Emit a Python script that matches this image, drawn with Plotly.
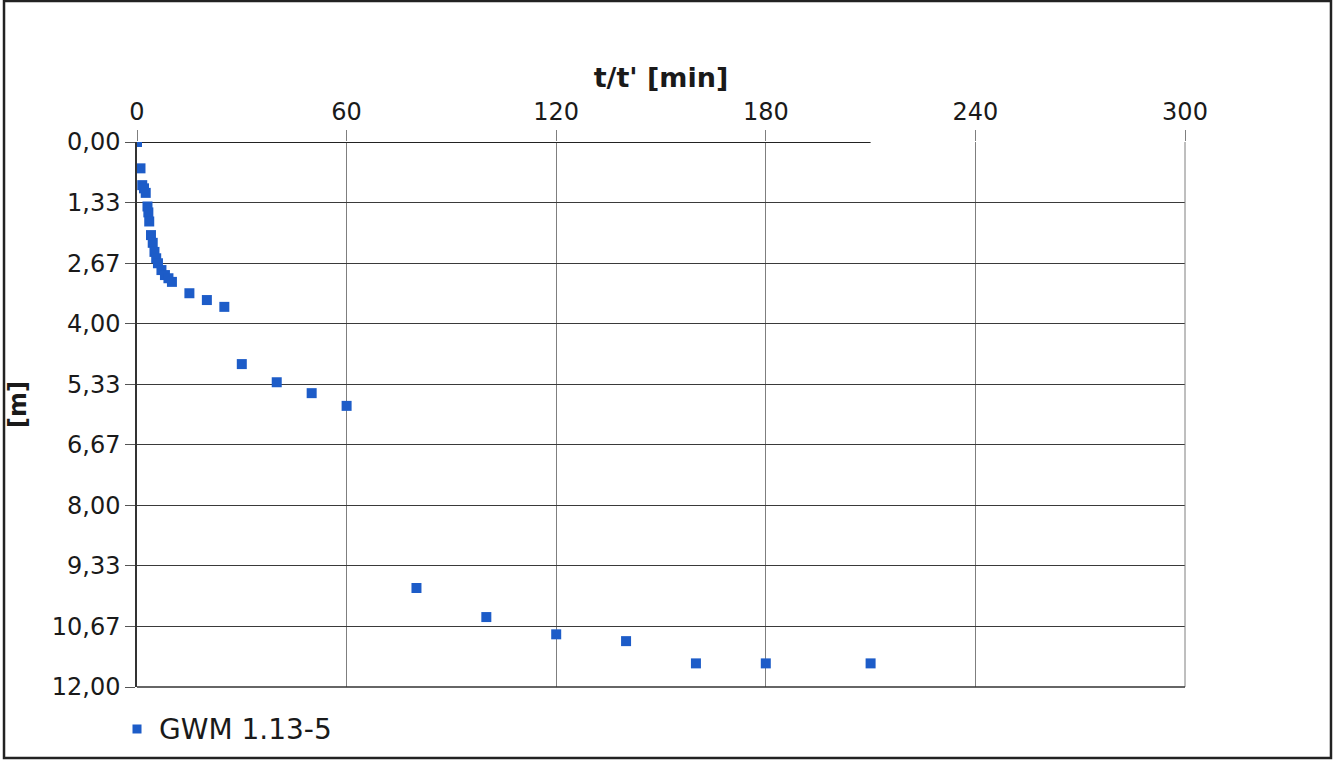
import plotly.graph_objects as go

# Drawdown measurements for well GWM 1.13-5
series_name = "GWM 1.13-5"
t_min = [0, 1, 1.5, 2, 2.5, 3, 3.25, 3.5, 4, 4.5, 5, 5.5, 6, 7, 8, 9, 10,
         15, 20, 25, 30, 40, 50, 60, 80, 100, 120, 140, 160, 180, 210]
depth_m = [0.00, 0.58, 0.95, 1.02, 1.12, 1.42, 1.55, 1.75, 2.05, 2.22, 2.42, 2.56, 2.67, 2.82, 2.93, 3.00, 3.08,
           3.33, 3.48, 3.63, 4.89, 5.29, 5.53, 5.81, 9.82, 10.46, 10.84, 10.99, 11.48, 11.48, 11.48]

# Reference (static) level line
ref_t = [0, 210]
ref_level = [0, 0]

x_ticks = [0, 60, 120, 180, 240, 300]
y_ticks = [0, 4 / 3, 8 / 3, 4, 16 / 3, 20 / 3, 8, 28 / 3, 32 / 3, 12]
y_labels = ["0,00", "1,33", "2,67", "4,00", "5,33", "6,67", "8,00", "9,33", "10,67", "12,00"]

FONT = "DejaVu Sans"
MARKER_COLOR = "#1d5cc8"

fig = go.Figure()
fig.add_trace(go.Scatter(
    x=ref_t, y=ref_level, mode="lines",
    line=dict(color="#222222", width=2), showlegend=False, hoverinfo="skip",
))
fig.add_trace(go.Scatter(
    x=t_min, y=depth_m, mode="markers", name=series_name,
    marker=dict(symbol="square", size=10, color=MARKER_COLOR, line=dict(width=0)),
    cliponaxis=True, showlegend=False,
))

fig.update_layout(
    width=1341, height=761,
    margin=dict(l=137, r=156, t=142, b=74),
    paper_bgcolor="white", plot_bgcolor="white",
    font=dict(family=FONT, size=24, color="#1a1a1a"),
    xaxis=dict(
        side="top", range=[0, 300], tickvals=x_ticks, ticktext=[str(v) for v in x_ticks],
        showgrid=True, gridcolor="#7f7f7f", gridwidth=1,
        ticks="outside", ticklen=11, tickcolor="#7f7f7f",
        zeroline=False, showline=False, automargin=False,
        title=dict(text="<b>t/t' [min]</b>", font=dict(family=FONT, size=27), standoff=2),
    ),
    yaxis=dict(
        range=[12, 0], tickvals=y_ticks, ticktext=y_labels,
        showgrid=True, gridcolor="#3a3a3a", gridwidth=1,
        ticks="outside", ticklen=10, tickcolor="#555555",
        zeroline=False, showline=True, linecolor="#333333", linewidth=1.5,
        automargin=False,
    ),
    showlegend=False,
)

# Vertical axis title
fig.add_annotation(
    text="<b>[m]</b>", xref="paper", yref="paper", x=-0.1135, y=0.5174,
    xanchor="center", yanchor="middle",
    textangle=-90, showarrow=False, font=dict(family=FONT, size=24),
)

# Legend entry below the plot area
fig.add_shape(type="rect", xref="paper", yref="paper",
              x0=-0.0043, x1=0.0043, y0=-0.0853, y1=-0.0688,
              line=dict(width=0), fillcolor=MARKER_COLOR)
fig.add_annotation(
    text=series_name, xref="paper", yref="paper", x=0.0191, y=-0.0771,
    xanchor="left", yanchor="middle", showarrow=False,
    font=dict(family=FONT, size=28, color="#1a1a1a"),
)

# Plot area outline (right side and bottom) and outer frame
fig.add_shape(type="line", xref="paper", yref="paper", x0=1, x1=1, y0=0, y1=1,
              line=dict(color="#7f7f7f", width=1))
fig.add_shape(type="line", xref="paper", yref="paper", x0=0, x1=1, y0=0, y1=0,
              line=dict(color="#333333", width=1.5))
fig.add_shape(type="rect", xref="paper", yref="paper",
              x0=-0.1269, x1=1.1393, y0=-0.1303, y1=1.2587,
              line=dict(color="#222222", width=2.5), fillcolor="rgba(0,0,0,0)")

fig.write_html("out.html")
